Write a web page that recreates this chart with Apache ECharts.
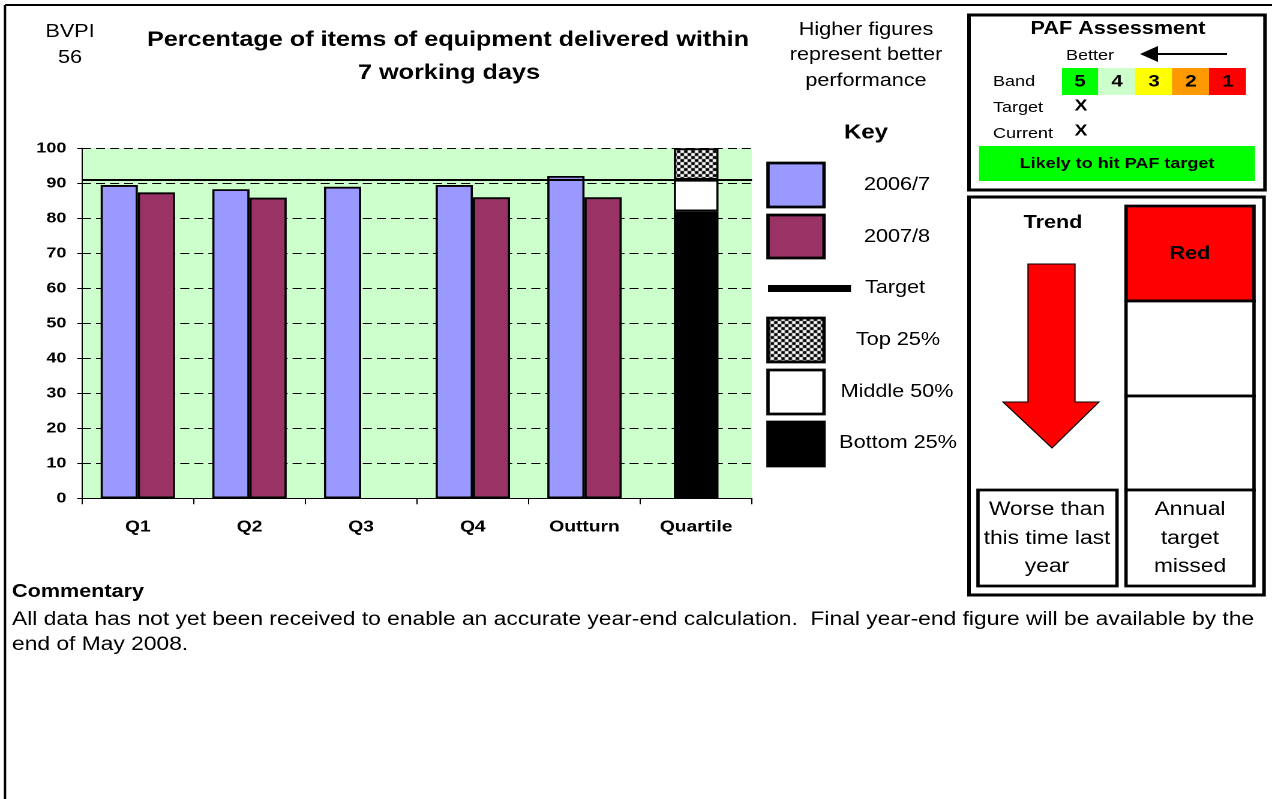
<!DOCTYPE html>
<html>
<head>
<meta charset="utf-8">
<title>BVPI 56</title>
<script src="https://cdn.jsdelivr.net/npm/echarts@6/dist/echarts.min.js"></script>
<style>
  html, body { margin: 0; padding: 0; background: #fff; overflow: hidden; }
  /* the sheet is laid out 1060 wide and stretched to 1272 */
  #page { width: 1060px; height: 799px; transform: scaleX(1.2); transform-origin: 0 0; }
</style>
</head>
<body>
<div id="page"></div>
<script>
// ---- data ----
const categories = ['Q1', 'Q2', 'Q3', 'Q4', 'Outturn', 'Quartile'];
const values2006 = [89.5, 88.3, 89.0, 89.5, 92.1, null];
const values2007 = [87.4, 85.9, null, 86.0, 86.0, null];
const targetValue = 91;
// quartile band upper bounds: bottom 25%, middle 50%, top 25%
const quartileBounds = [82, 91, 100];
const yTickMin = 0, yTickMax = 100, yTickStep = 10;

// ---- layout helpers ----
const SX = 1.2;                    // horizontal stretch applied by CSS
const X = v => v / SX;             // page x -> layout x
const FONT = '"Liberation Sans", Arial, Helvetica, sans-serif';

const lastIdx = categories.length - 1;
const onlyQuartile = v => categories.map((c, i) => (i === lastIdx ? v : null));
const qBottom = onlyQuartile(quartileBounds[0]);
const qMiddle = onlyQuartile(quartileBounds[1] - quartileBounds[0]);
const qTop = onlyQuartile(quartileBounds[2] - quartileBounds[1]);

// checkerboard fill for the top quartile
const checker = document.createElement('canvas');
checker.width = 6; checker.height = 6;
(function () {
  const g = checker.getContext('2d');
  g.fillStyle = '#fff'; g.fillRect(0, 0, 6, 6);
  g.fillStyle = '#000'; g.fillRect(0, 0, 3, 3); g.fillRect(3, 3, 3, 3);
})();
const checkerFill = { image: checker, repeat: 'repeat' };

// ---- graphic helpers ----
function txt(x, y, text, size, bold, align) {
  return {
    type: 'text', x: X(x), y: y, z: 50,
    style: {
      text: text, fill: '#000',
      font: (bold ? 'bold ' : '') + size + 'px ' + FONT,
      align: align || 'center', textAlign: align || 'center',
      verticalAlign: 'middle', textVerticalAlign: 'middle'
    }
  };
}
function box(x1, y1, x2, y2, fill, lw, stroke) {
  return {
    type: 'rect', z: 40,
    shape: { x: X(x1), y: y1, width: X(x2) - X(x1), height: y2 - y1 },
    style: { fill: fill || 'none', stroke: lw ? (stroke || '#000') : null, lineWidth: lw || 0 }
  };
}
function seg(x1, y1, x2, y2, lw) {
  return {
    type: 'line', z: 40,
    shape: { x1: X(x1), y1: y1, x2: X(x2), y2: y2 },
    style: { stroke: '#000', lineWidth: lw }
  };
}

const graphics = [
  // sheet border
  seg(5, 5, 1272, 5, 2),
  seg(5, 5, 5, 799, 2),

  // headings
  txt(70, 32, 'BVPI', 18, false),
  txt(70, 58, '56', 18, false),
  txt(448, 40, 'Percentage of items of equipment delivered within', 21, true),
  txt(449, 73, '7 working days', 21, true),
  txt(866, 30, 'Higher figures', 18, false),
  txt(866, 55, 'represent better', 18, false),
  txt(866, 81, 'performance', 18, false),

  // key
  txt(866, 133, 'Key', 20, true),
  box(768, 163, 824, 207, '#9999FF', 2.8),
  txt(897, 185, '2006/7', 18, false),
  box(768, 215, 824, 258, '#993366', 2.8),
  txt(897, 237, '2007/8', 18, false),
  box(768, 285, 851, 292, '#000', 0),
  txt(895, 288, 'Target', 18, false),
  box(768, 318, 824, 362, checkerFill, 2.8),
  txt(898, 340, 'Top 25%', 18, false),
  box(768, 370, 824, 414, '#fff', 2.8),
  txt(897, 392, 'Middle 50%', 18, false),
  box(768, 422, 824, 466, '#000', 2.8),
  txt(898, 443, 'Bottom 25%', 18, false),

  // PAF assessment panel
  box(969, 15, 1265, 190, '#fff', 3),
  txt(1118, 29, 'PAF Assessment', 18, true),
  txt(1090, 56, 'Better', 15, false),
  seg(1156, 54, 1227, 54, 2),
  { type: 'polygon', z: 41, shape: { points: [[X(1140), 54], [X(1158), 46], [X(1158), 62]] }, style: { fill: '#000' } },
  txt(993, 82, 'Band', 15, false, 'left'),
  box(1062, 68, 1098, 95, '#00FF00', 0),
  box(1098, 68, 1135, 95, '#CCFFCC', 0),
  box(1135, 68, 1172, 95, '#FFFF00', 0),
  box(1172, 68, 1209, 95, '#FF9900', 0),
  box(1209, 68, 1246, 95, '#FF0000', 0),
  txt(1080, 82, '5', 17, true),
  txt(1117, 82, '4', 17, true),
  txt(1154, 82, '3', 17, true),
  txt(1191, 82, '2', 17, true),
  txt(1228, 82, '1', 17, true),
  txt(993, 108, 'Target', 15, false, 'left'),
  txt(1081, 106, 'X', 16, true),
  txt(993, 134, 'Current', 15, false, 'left'),
  txt(1081, 131, 'X', 16, true),
  box(979, 146, 1255, 181, '#00FF00', 0),
  txt(1117, 164, 'Likely to hit PAF target', 15, true),

  // trend panel
  box(969, 197, 1264, 595, '#fff', 3),
  txt(1053, 223, 'Trend', 18, true),
  {
    type: 'polygon', z: 41,
    shape: { points: [[1028, 264], [1075, 264], [1075, 402], [1099, 402], [1052, 448], [1003, 402], [1028, 402]].map(p => [X(p[0]), p[1]]) },
    style: { fill: '#FF0000', stroke: '#000', lineWidth: 1 }
  },
  box(1126, 206, 1254, 301, '#FF0000', 2.8),
  txt(1190, 254, 'Red', 18, true),
  box(1126, 301, 1254, 396, '#fff', 2.8),
  box(1126, 396, 1254, 490, '#fff', 2.8),
  box(1126, 490, 1254, 586, '#fff', 2.8),
  txt(1190, 510, 'Annual', 19, false),
  txt(1190, 539, 'target', 19, false),
  txt(1190, 567, 'missed', 19, false),
  box(978, 490, 1117, 586, '#fff', 2.8),
  txt(1047, 510, 'Worse than', 19, false),
  txt(1047, 539, 'this time last', 19, false),
  txt(1047, 567, 'year', 19, false),

  // commentary
  txt(12, 592, 'Commentary', 18, true, 'left'),
  txt(12, 620, 'All data has not yet been received to enable an accurate year-end calculation.  Final year-end figure will be available by the', 19, false, 'left'),
  txt(12, 645, 'end of May 2008.', 19, false, 'left')
];

// ---- chart ----
const chart = echarts.init(document.getElementById('page'), null, { renderer: 'canvas', devicePixelRatio: 2 });
const barBorder = { borderColor: '#000', borderWidth: 1.8 };

chart.setOption({
  animation: false,
  backgroundColor: '#fff',
  textStyle: { fontFamily: FONT },
  grid: {
    left: X(82), top: 148.3, width: X(752) - X(82), height: 350,
    show: true, backgroundColor: '#CCFFCC', borderWidth: 0
  },
  xAxis: [
    {
      type: 'category', data: categories,
      axisLine: { lineStyle: { color: '#000', width: 1 } },
      axisTick: { show: true, length: 6, lineStyle: { color: '#000' } },
      axisLabel: { color: '#000', fontWeight: 'bold', fontSize: 16, margin: 21, fontFamily: FONT },
      splitLine: { show: false }
    },
    { type: 'category', data: categories, show: false }
  ],
  yAxis: {
    type: 'value', min: yTickMin, max: yTickMax, interval: yTickStep,
    axisLine: { show: true, lineStyle: { color: '#000', width: 1 } },
    axisTick: { show: true, length: 4, lineStyle: { color: '#000' } },
    axisLabel: { color: '#000', fontWeight: 'bold', fontSize: 15, margin: 13, fontFamily: FONT },
    splitLine: { show: true, lineStyle: { color: '#000', width: 1, type: [7.5, 4.2] } }
  },
  series: [
    {
      name: '2006/7', type: 'bar', xAxisIndex: 0, data: values2006,
      barWidth: '33.3%', barGap: '0%',
      itemStyle: Object.assign({ color: '#9999FF' }, barBorder)
    },
    {
      name: '2007/8', type: 'bar', xAxisIndex: 0, data: values2007,
      barWidth: '33.3%', barGap: '0%',
      itemStyle: Object.assign({ color: '#993366' }, barBorder)
    },
    {
      name: 'Bottom 25%', type: 'bar', xAxisIndex: 1, stack: 'quartile', data: qBottom,
      barWidth: '40%', itemStyle: Object.assign({ color: '#000' }, barBorder)
    },
    {
      name: 'Middle 50%', type: 'bar', xAxisIndex: 1, stack: 'quartile', data: qMiddle,
      barWidth: '40%', itemStyle: Object.assign({ color: '#fff' }, barBorder)
    },
    {
      name: 'Top 25%', type: 'bar', xAxisIndex: 1, stack: 'quartile', data: qTop,
      barWidth: '40%', itemStyle: Object.assign({ color: checkerFill }, barBorder),
      markLine: {
        silent: true, symbol: 'none', z: 10,
        label: { show: false },
        lineStyle: { color: '#000', width: 2, type: 'solid' },
        data: [{ name: 'Target', yAxis: targetValue }]
      }
    }
  ],
  graphic: graphics
});
</script>
</body>
</html>
